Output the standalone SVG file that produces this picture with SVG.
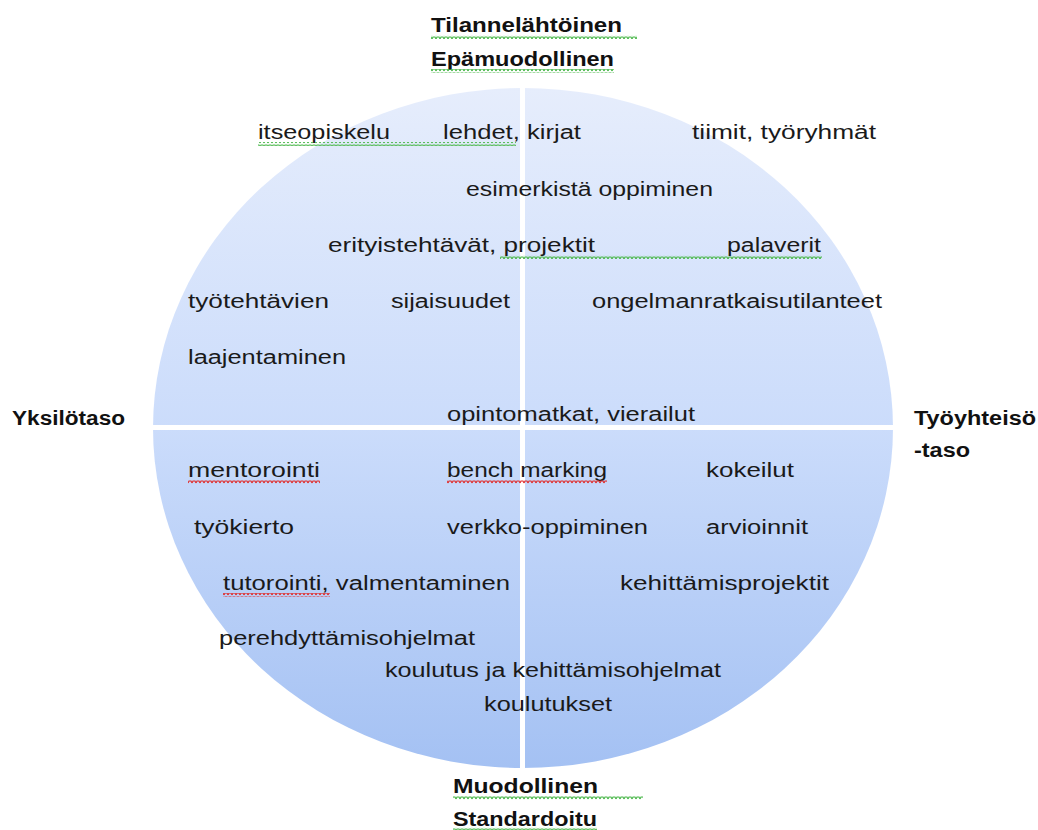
<svg xmlns="http://www.w3.org/2000/svg" width="1038" height="830" viewBox="0 0 1038 830">
<style>
  text { font-family: "Liberation Sans", Arial, sans-serif; font-size: 20px; fill: #1a1a1a; }
  .b { font-weight: bold; font-size: 20px; fill: #111; }
</style>
<defs>
  <linearGradient id="g" x1="0" y1="0" x2="0" y2="1">
    <stop offset="0" stop-color="#e6edfc"/>
    <stop offset="0.5" stop-color="#cbdcfb"/>
    <stop offset="1" stop-color="#a4c1f3"/>
  </linearGradient>
  <pattern id="wg" width="4" height="4" patternUnits="userSpaceOnUse">
    <path d="M0 3 L1 1 L3 1 L4 3" fill="none" stroke="#4cb84c" stroke-width="1.2"/>
  </pattern>
  <pattern id="wr" width="4" height="4" patternUnits="userSpaceOnUse">
    <path d="M0 3 L1 1 L3 1 L4 3" fill="none" stroke="#e03030" stroke-width="1.2"/>
  </pattern>
</defs>
<rect width="1038" height="830" fill="#ffffff"/>
<g id="circle">
  <ellipse cx="523" cy="428" rx="370" ry="340" fill="url(#g)"/>
  <line x1="522.5" y1="85" x2="522.5" y2="772" stroke="#ffffff" stroke-width="5"/>
  <line x1="150" y1="427.5" x2="896" y2="427.5" stroke="#ffffff" stroke-width="5"/>
</g>
<g id="axis-labels">
  <text class="b" x="431" y="32" textLength="191" lengthAdjust="spacingAndGlyphs">Tilannelähtöinen</text>
  <text class="b" x="431" y="66" textLength="183" lengthAdjust="spacingAndGlyphs">Epämuodollinen</text>
  <text class="b" x="12" y="425" textLength="113" lengthAdjust="spacingAndGlyphs">Yksilötaso</text>
  <text class="b" x="914" y="425" textLength="122" lengthAdjust="spacingAndGlyphs">Työyhteisö</text>
  <text class="b" x="914" y="457" textLength="56" lengthAdjust="spacingAndGlyphs">-taso</text>
  <text class="b" x="453" y="793" textLength="145" lengthAdjust="spacingAndGlyphs">Muodollinen</text>
  <text class="b" x="453" y="826" textLength="144" lengthAdjust="spacingAndGlyphs">Standardoitu</text>
</g>
<g id="items">
  <text x="258" y="139" textLength="132" lengthAdjust="spacingAndGlyphs">itseopiskelu</text>
  <text x="443" y="139" textLength="138" lengthAdjust="spacingAndGlyphs">lehdet, kirjat</text>
  <text x="692" y="139" textLength="184" lengthAdjust="spacingAndGlyphs">tiimit, työryhmät</text>
  <text x="466" y="196" textLength="247" lengthAdjust="spacingAndGlyphs">esimerkistä oppiminen</text>
  <text x="328" y="252" textLength="267" lengthAdjust="spacingAndGlyphs">erityistehtävät, projektit</text>
  <text x="727" y="252" textLength="94" lengthAdjust="spacingAndGlyphs">palaverit</text>
  <text x="188" y="308" textLength="141" lengthAdjust="spacingAndGlyphs">työtehtävien</text>
  <text x="391" y="308" textLength="119" lengthAdjust="spacingAndGlyphs">sijaisuudet</text>
  <text x="592" y="308" textLength="290" lengthAdjust="spacingAndGlyphs">ongelmanratkaisutilanteet</text>
  <text x="188" y="364" textLength="158" lengthAdjust="spacingAndGlyphs">laajentaminen</text>
  <text x="447" y="421" textLength="248" lengthAdjust="spacingAndGlyphs">opintomatkat, vierailut</text>
  <text x="188" y="477" textLength="132" lengthAdjust="spacingAndGlyphs">mentorointi</text>
  <text x="447" y="477" textLength="160" lengthAdjust="spacingAndGlyphs">bench marking</text>
  <text x="706" y="477" textLength="88" lengthAdjust="spacingAndGlyphs">kokeilut</text>
  <text x="194" y="534" textLength="100" lengthAdjust="spacingAndGlyphs">työkierto</text>
  <text x="447" y="534" textLength="201" lengthAdjust="spacingAndGlyphs">verkko-oppiminen</text>
  <text x="706" y="534" textLength="102" lengthAdjust="spacingAndGlyphs">arvioinnit</text>
  <text x="223" y="590" textLength="287" lengthAdjust="spacingAndGlyphs">tutorointi, valmentaminen</text>
  <text x="620" y="590" textLength="209" lengthAdjust="spacingAndGlyphs">kehittämisprojektit</text>
  <text x="219" y="645" textLength="256" lengthAdjust="spacingAndGlyphs">perehdyttämisohjelmat</text>
  <text x="385" y="677" textLength="336" lengthAdjust="spacingAndGlyphs">koulutus ja kehittämisohjelmat</text>
  <text x="484" y="711" textLength="128" lengthAdjust="spacingAndGlyphs">koulutukset</text>
</g>
<g id="squiggles">
  <rect x="431" y="35" width="206" height="4" fill="url(#wg)"/>
  <rect x="431" y="69" width="183" height="4" fill="url(#wg)"/>
  <rect x="258" y="142" width="258" height="4" fill="url(#wg)"/>
  <rect x="500" y="255" width="322" height="4" fill="url(#wg)"/>
  <rect x="453" y="796" width="190" height="4" fill="url(#wg)"/>
  <rect x="453" y="827" width="144" height="3" fill="url(#wg)"/>
  <rect x="188" y="480" width="132" height="4" fill="url(#wr)"/>
  <rect x="447" y="480" width="160" height="4" fill="url(#wr)"/>
  <rect x="223" y="593" width="107" height="4" fill="url(#wr)"/>
</g>
</svg>
